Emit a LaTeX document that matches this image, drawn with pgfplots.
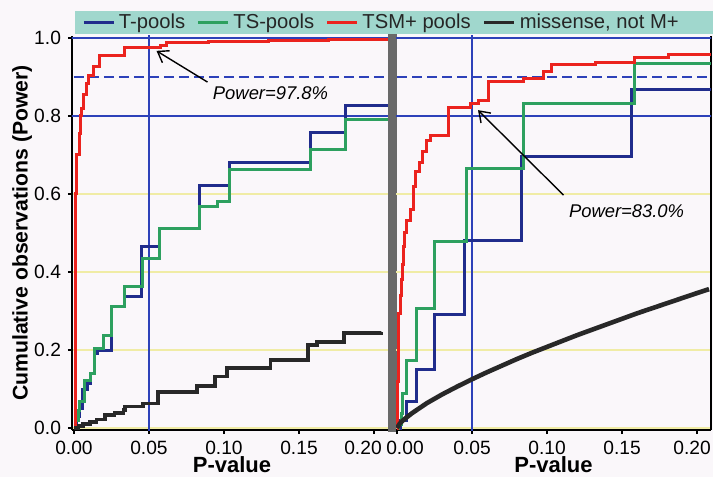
\documentclass[border=0pt]{standalone}
\usepackage{fontspec}
\setmainfont{Liberation Sans}[BoldFont={Liberation Sans Bold}, ItalicFont={Liberation Sans Italic}]
\usepackage{pgfplots}
\pgfplotsset{compat=1.18}
\usetikzlibrary{arrows.meta}

\definecolor{tblue}{RGB}{32,44,140}
\definecolor{refblue}{RGB}{45,65,185}
\definecolor{tsgreen}{RGB}{45,160,95}
\definecolor{tsmred}{RGB}{235,35,30}
\definecolor{mblack}{RGB}{40,40,40}
\definecolor{band}{RGB}{160,215,205}
\definecolor{gridyel}{RGB}{240,236,165}
\definecolor{sepgray}{RGB}{105,105,105}
\definecolor{paper}{RGB}{250,247,250}

\tikzset{ann/.style={black, line width=0.7pt, -{Straight Barb[length=5pt,width=7pt]}}}

\pgfplotsset{
  panel/.style={
    scale only axis, height=197pt,
    ymin=-0.0051, ymax=1.0051,
    ytick={0,0.2,0.4,0.6,0.8,1},
    xticklabel style={/pgf/number format/fixed, /pgf/number format/fixed zerofill, /pgf/number format/precision=2},
    yticklabel style={/pgf/number format/fixed, /pgf/number format/fixed zerofill, /pgf/number format/precision=1},
    /pgf/number format/assume math mode=true,
    tick align=outside, major tick length=2pt,
    ymajorgrids, grid style={gridyel, line width=0.6pt},
    axis line style={black, line width=1pt},
    tick style={black, line width=0.6pt},
    tick label style={font=\fontsize{9.6}{11}\selectfont},
    every axis x label/.style={at={(axis description cs:0.5,-0.089)}, anchor=center,
      font=\bfseries\fontsize{11}{13}\selectfont},
    xlabel={P-value},
    axis x line*=bottom,
  },
  ref/.style={refblue, line width=0.7pt, forget plot},
  stp/.style={const plot, line width=1.5pt},
}

\begin{document}
\begin{tikzpicture}
\path[fill=paper, use as bounding box] (-36pt,-23.5pt) rectangle (320.5pt,215pt);
\fill[band] (1.5pt,198pt) rectangle (320.5pt,209.5pt);

% ---- left panel
\begin{axis}[panel, name=L, at={(0pt,0pt)}, anchor=south west,
  width=160pt, xmin=-0.00133, xmax=0.2120,
  xtick={0,0.05,0.1,0.15}, extra x ticks={0.2},
  extra x tick style={xticklabel style={xshift=-5.5pt}},
  axis y line*=left,
  ylabel={Cumulative observations (Power)},
  every axis y label/.style={at={(axis description cs:-0.156,0.5)}, rotate=90, anchor=center,
    font=\bfseries\fontsize{10.6}{13}\selectfont},
  legend columns=4,
  legend style={draw=none, fill=none, at={(0.03125,1.0343)}, anchor=west,
    inner sep=0pt, font=\fontsize{10.1}{12}\selectfont, text=black!85,
    nodes={inner sep=0.8pt},
    /tikz/every odd column/.append style={column sep=1pt},
    /tikz/every even column/.append style={column sep=5pt}},
  legend image code/.code={\draw[#1] (0pt,0pt) -- (15pt,0pt);},
]
\addplot[ref] coordinates {(-0.01,1) (0.25,1)};
\addplot[ref, dash pattern=on 5pt off 2.5pt] coordinates {(-0.01,0.9) (0.25,0.9)};
\addplot[ref] coordinates {(-0.01,0.8) (0.25,0.8)};
\addplot[ref] coordinates {(0.05,-0.01) (0.05,1.01)};

% T-pools
\addplot[stp, tblue] coordinates {(0,0) (0.0015,0.03) (0.004,0.05) (0.0055,0.10) (0.009,0.115)
  (0.011,0.14) (0.014,0.19) (0.016,0.20) (0.025,0.311) (0.034,0.337) (0.045,0.465)
  (0.057,0.512) (0.084,0.623) (0.104,0.68) (0.158,0.757) (0.181,0.826) (0.212,0.826)};
\addlegendentry{T-pools}
% TS-pools
\addplot[stp, tsgreen] coordinates {(0,0) (0.001,0.02) (0.003,0.046) (0.004,0.067) (0.0073,0.123)
  (0.0107,0.14) (0.014,0.205) (0.0195,0.238) (0.025,0.311) (0.034,0.362) (0.046,0.435)
  (0.057,0.512) (0.084,0.567) (0.096,0.58) (0.104,0.662) (0.158,0.713) (0.181,0.792) (0.212,0.792)};
\addlegendentry{TS-pools}
% TSM+ pools
\addplot[stp, tsmred] coordinates {(0,0) (0.0008,0.3) (0.0012,0.6) (0.002,0.70) (0.0035,0.756)
  (0.0045,0.80) (0.005,0.82) (0.0065,0.855) (0.0085,0.884) (0.010,0.905) (0.013,0.926)
  (0.0173,0.956) (0.034,0.976) (0.058,0.982) (0.062,0.988) (0.09,0.991) (0.13,0.993)
  (0.17,0.995) (0.212,0.995)};
\addlegendentry{TSM+ pools}
% missense, not M+
\addplot[stp, mblack, line width=1.9pt] coordinates {(0,0) (0.003,0.005) (0.006,0.01) (0.0107,0.016)
  (0.015,0.022) (0.0207,0.033) (0.027,0.038) (0.033,0.046) (0.034,0.055) (0.046,0.063)
  (0.056,0.093) (0.082,0.107) (0.094,0.132) (0.102,0.153) (0.131,0.174) (0.156,0.213)
  (0.162,0.22) (0.18,0.243) (0.205,0.245)};
\addlegendentry{missense, not M+}

\node[font=\itshape\fontsize{9.2}{11}\selectfont] at (axis cs:0.131,0.859) {Power=97.8\%};
\draw[ann] (axis cs:0.089,0.887) -- (axis cs:0.055,0.967);
\end{axis}

\fill[sepgray] (158pt,-1pt) rectangle (162.5pt,198pt);

% ---- right panel
\begin{axis}[panel, name=R, at={(162pt,0pt)}, anchor=south west,
  width=157.5pt, xmin=-0.00067, xmax=0.2093,
  xtick={0.05,0.1,0.15,0.2},
  xticklabels={0.05,0.10,0.15,{\makebox[0pt]{\hspace*{-5pt}0.20}}},
  extra x ticks={0},
  extra x tick style={xticklabel style={xshift=4pt}},
  axis y line*=right, yticklabels={}, ytick style={draw=none},
]
\addplot[ref] coordinates {(-0.01,1) (0.25,1)};
\addplot[ref, dash pattern=on 5pt off 2.5pt] coordinates {(-0.01,0.9) (0.25,0.9)};
\addplot[ref] coordinates {(-0.01,0.8) (0.25,0.8)};
\addplot[ref] coordinates {(0.05,-0.01) (0.05,1.01)};

\addplot[stp, tblue] coordinates {(0,0) (0.002,0.02) (0.0065,0.067) (0.013,0.149) (0.025,0.29)
  (0.045,0.482) (0.083,0.696) (0.156,0.867) (0.209,0.867)};
\addplot[stp, tsgreen] coordinates {(0,0) (0.001,0.01) (0.003,0.038) (0.0035,0.089) (0.0065,0.174)
  (0.013,0.307) (0.025,0.478) (0.046,0.666) (0.084,0.833) (0.158,0.935) (0.209,0.935)};
\addplot[stp, tsmred] coordinates {(0,0) (0.0003,0.12) (0.001,0.294) (0.002,0.34) (0.003,0.38)
  (0.0035,0.42) (0.004,0.465) (0.005,0.50) (0.0065,0.533) (0.0087,0.56) (0.011,0.62)
  (0.012,0.657) (0.015,0.68) (0.017,0.71) (0.0198,0.738) (0.022,0.751) (0.034,0.822)
  (0.049,0.833) (0.054,0.84) (0.061,0.888) (0.084,0.896) (0.0976,0.914) (0.103,0.931)
  (0.132,0.937) (0.158,0.95) (0.181,0.958) (0.209,0.958)};
\addplot[mblack, line width=2.3pt] coordinates {(0,0) (0.002,0.012) (0.005,0.023) (0.01,0.038)
  (0.02,0.064) (0.03,0.086) (0.04,0.106) (0.05,0.125) (0.06,0.143) (0.07,0.160) (0.08,0.177)
  (0.09,0.193) (0.10,0.208) (0.12,0.238) (0.14,0.266) (0.16,0.294) (0.18,0.320) (0.20,0.346)
  (0.208,0.356)};

\node[font=\itshape\fontsize{9.2}{11}\selectfont] at (axis cs:0.153,0.555) {Power=83.0\%};
\draw[ann] (axis cs:0.111,0.597) -- (axis cs:0.054,0.815);
\end{axis}
\end{tikzpicture}
\end{document}
